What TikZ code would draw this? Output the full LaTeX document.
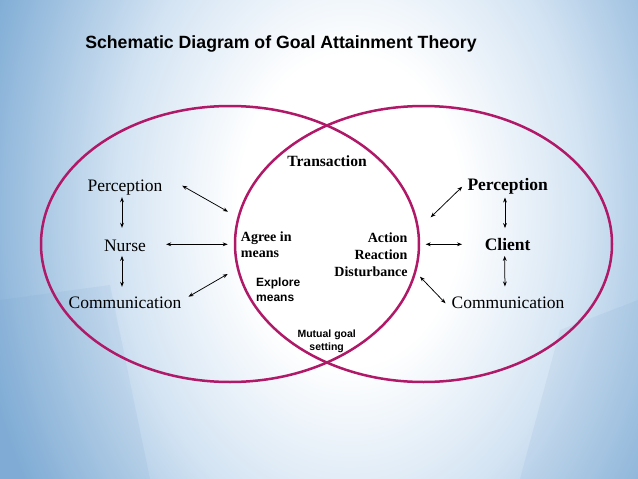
\documentclass[tikz,border=0pt]{standalone}
\usepackage{fontspec}
\setmainfont{Liberation Serif}
\setsansfont{Liberation Sans}
\usetikzlibrary{arrows.meta}
\definecolor{bgblue}{RGB}{130,174,214}
\definecolor{bglight}{RGB}{212,228,243}
\definecolor{bgdeep}{RGB}{104,152,200}
\definecolor{ringred}{RGB}{176,24,104}
\pgfdeclareradialshading{glow}{\pgfpoint{0bp}{0bp}}{color(0bp)=(white); color(4bp)=(white); color(8.3bp)=(bglight); color(13.6bp)=(bgblue); color(50bp)=(bgblue)}
\begin{document}
\begin{tikzpicture}[x=1pt,y=-1pt,
  ring/.style={draw=ringred, line width=2.5pt},
  biarrow/.style={{Stealth[length=5pt,width=3.8pt]}-{Stealth[length=5pt,width=3.8pt]}, line width=0.75pt, black},
  sr/.style={font=\fontsize{17.5}{20}\selectfont, inner sep=0pt, anchor=base, text height=12pt, text depth=4pt},
  srb/.style={sr, font=\bfseries\fontsize{17.5}{20}\selectfont},
  inner/.style={inner sep=0pt},
  titlestyle/.style={font=\sffamily\bfseries\fontsize{17.7}{20}\selectfont, inner sep=0pt, anchor=base}]
\useasboundingbox (0,0) rectangle (638,479);
% background
\fill[bgblue] (0,0) rectangle (638,479);
\begin{scope}
  \clip (0,0) rectangle (638,479);
  \shade[shading=glow] (350,210) ellipse [x radius=700pt, y radius=970pt];
  \fill[bgdeep, opacity=0.10] (0,300) -- (110,285) -- (150,479) -- (0,479) -- cycle;
  \fill[bgdeep, opacity=0.10] (560,330) -- (638,300) -- (638,479) -- (520,479) -- cycle;
  \fill[bgdeep, opacity=0.08] (170,479) arc[start angle=200, end angle=340, x radius=170pt, y radius=60pt] -- (490,479) -- cycle;
\end{scope}
% ellipses
\draw[ring] (230,244) ellipse [x radius=189pt, y radius=138pt];
\draw[ring] (423.5,244) ellipse [x radius=188.5pt, y radius=138pt];
% title
\node[titlestyle] (title) at (281,48.3) {Schematic Diagram of Goal Attainment Theory};
% left side
\node[sr] (pl) at (125,191.5) {Perception};
\node[sr] (nl) at (125,251) {Nurse};
\node[sr] (cl) at (125,308) {Communication};
% right side
\node[srb] (pr) at (507.7,190.7) {Perception};
\node[srb] (cr) at (507.7,250.7) {Client};
\node[sr] (mr) at (508,308) {Communication};
% lens texts
\node[inner, anchor=base, font=\bfseries\fontsize{15.6}{18}\selectfont] (tr) at (327,166) {Transaction};
\node[inner, anchor=base west, font=\bfseries\fontsize{14}{16.7}\selectfont] (ag) at (240.7,241)
  {\begin{tabular}[t]{@{}l@{}}Agree in\\ means\end{tabular}};
\node[inner, anchor=base east, font=\bfseries\fontsize{14}{17}\selectfont] (ac) at (407.7,242.7)
  {\begin{tabular}[t]{@{}r@{}}Action\\ Reaction\\ Disturbance\end{tabular}};
\node[inner, anchor=base west, font=\sffamily\bfseries\fontsize{12}{15}\selectfont] (ex) at (256,286.7)
  {\begin{tabular}[t]{@{}l@{}}Explore\\ means\end{tabular}};
\node[inner, anchor=base, font=\sffamily\bfseries\fontsize{10.5}{13.4}\selectfont] (mg) at (326.7,337.3)
  {\begin{tabular}[t]{@{}c@{}}Mutual goal\\ setting\end{tabular}};
% arrow ends on the lens side
\coordinate (la1) at (228,211.7);
\coordinate (la2) at (227.7,244.3);
\coordinate (la3) at (227.7,274);
\coordinate (ra1) at (430.7,217.3);
\coordinate (ra2) at (425.7,244.3);
\coordinate (ra3) at (420,276.7);
% left arrows
\draw[biarrow] ([xshift=19.6pt, yshift=1.8pt]pl.east) -- (la1);
\draw[biarrow] ([xshift=20.1pt, yshift=2.7pt]nl.east) -- (la2);
\draw[biarrow] ([xshift=6.9pt, yshift=7.3pt]cl.east) -- (la3);
\draw[biarrow, shorten <=1.5pt, shorten >=11pt] ([xshift=-3pt]pl.south) -- ([xshift=-3pt]nl.north);
\draw[biarrow, shorten <=0.7pt, shorten >=9pt] ([xshift=-3pt]nl.south) -- ([xshift=-3pt]cl.north);
% right arrows
\draw[biarrow] (ra1) -- ([xshift=-5.1pt]pr.west);
\draw[biarrow] (ra2) -- ([xshift=-22.6pt, yshift=2.4pt]cr.west);
\draw[biarrow] (ra3) -- ([xshift=-5.9pt, yshift=0.7pt]mr.west);
\draw[biarrow, shorten <=2.6pt, shorten >=10.4pt] ([xshift=-2.7pt]pr.south) -- ([xshift=-2.7pt]cr.north);
\draw[biarrow, shorten <=1pt, shorten >=9.3pt] ([xshift=-3pt]cr.south) -- ([xshift=-3pt]mr.north);
\end{tikzpicture}
\end{document}
